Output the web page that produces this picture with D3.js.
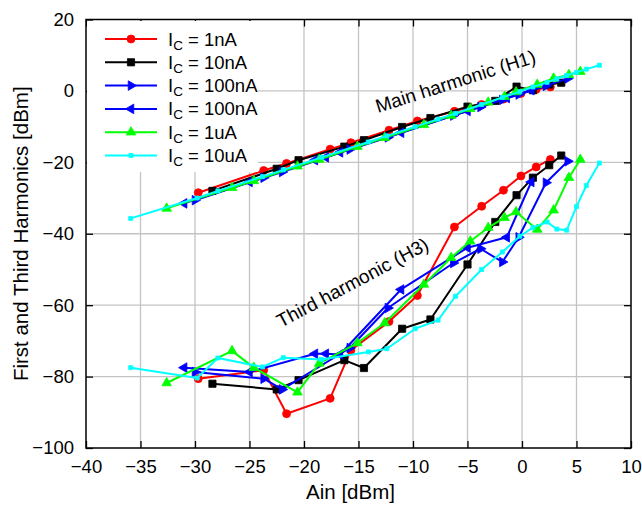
<!DOCTYPE html>
<html><head><meta charset="utf-8">
<script src="https://cdn.jsdelivr.net/npm/d3@7"></script>
<style>
html,body{margin:0;padding:0;background:#fff;}
svg{display:block;font-family:"Liberation Sans",Arial,Helvetica,sans-serif;}
</style></head>
<body><svg id="c" width="642" height="505"></svg>
<script>
// ---------- data ----------
const xTicks = [-40,-35,-30,-25,-20,-15,-10,-5,0,5,10];
const yTicks = [-100,-80,-60,-40,-20,0,20];
const seriesNames = ["1nA","10nA","100nA","100nA","1uA","10uA"];
const seriesColors = ["#ff0000","#000000","#0000ff","#0000ff","#00ff00","#00ffff"];
const seriesMarkers = ["circle","square","triRight","triLeft","triUp","smallSquare"];

const ain1nA = [-29.7,-23.7,-21.6,-17.6,-15.7,-12.2,-9.6,-6.2,-3.7,-1.7,-0.1,1.3,2.6];
const h1_1nA = [-28.5,-22.3,-20.3,-16.3,-14.5,-11.0,-8.4,-5.7,-3.8,-2.3,-0.7,0.4,1.1];
const h3_1nA = [-80.6,-78.2,-90.4,-86.1,-72.6,-64.6,-57.3,-38.1,-32.3,-27.8,-23.8,-21.3,-19.2];

const ain10nA = [-28.4,-22.5,-20.5,-16.3,-14.5,-11.0,-8.4,-5.0,-2.45,-0.5,1.0,2.5,3.6];
const h1_10nA = [-28.0,-21.8,-19.4,-15.6,-13.8,-10.1,-7.6,-4.4,-2.8,1.2,0.2,1.8,2.3];
const h3_10nA = [-82.0,-83.6,-81.0,-75.4,-77.6,-66.6,-64.0,-48.6,-36.7,-29.2,-24.3,-20.8,-18.1];

const ain100nA_a = [-30.0,-23.7,-22.0,-15.8,-12.3,-6.3,-3.8,-1.8,-0.3,2.2,4.2];
const h1_100nA_a = [-30.6,-24.3,-22.7,-16.4,-13.0,-6.9,-4.5,-2.5,-1.0,1.4,3.5];
const h3_100nA_a = [-78.7,-80.6,-83.6,-72.0,-60.8,-48.2,-44.2,-47.9,-41.0,-25.7,-19.7];

const ain100nA_b = [-31.0,-25.0,-19.0,-18.0,-16.7,-11.1,-5.0,-1.4,0.85];
const h1_100nA_b = [-31.5,-25.5,-19.4,-18.6,-17.2,-11.7,-5.6,-2.0,0.2];
const h3_100nA_b = [-77.5,-78.7,-73.6,-73.6,-73.8,-55.6,-43.9,-41.0,-25.5];

const ain1uA = [-32.6,-26.6,-24.6,-20.6,-18.6,-15.1,-12.6,-9.0,-6.5,-4.75,-3.1,-1.6,-0.55,1.4,2.9,4.3,5.35];
const h1_1uA = [-32.9,-27.1,-25.2,-21.1,-19.2,-15.6,-13.1,-9.5,-6.9,-5.0,-3.2,-1.6,-0.3,1.8,3.5,4.5,5.4];
const h3_1uA = [-81.8,-72.8,-77.5,-84.4,-76.3,-70.6,-65.0,-54.2,-46.7,-42.1,-38.3,-35.5,-33.9,-38.8,-33.4,-24.3,-19.2];

const ain10uA = [-35.9,-29.8,-27.9,-23.8,-21.9,-18.4,-14.1,-12.4,-9.8,-7.7,-6.1,-3.7,-1.8,-0.2,1.0,2.3,3.2,4.1,5.0,5.9,7.1];
const h1_10uA = [-35.7,-30.0,-28.0,-24.0,-22.1,-18.6,-14.3,-12.6,-10.0,-7.9,-6.3,-3.8,-1.8,-0.2,1.1,2.4,3.4,4.3,5.2,6.1,7.2];
const h3_10uA = [-77.5,-80.4,-74.8,-77.3,-74.7,-75.2,-73.1,-72.2,-66.6,-64.2,-57.5,-50.0,-45.1,-40.7,-38.3,-36.7,-38.7,-39.0,-32.4,-26.5,-20.2];

const series = [
  {ain: ain1nA, h1: h1_1nA, h3: h3_1nA},
  {ain: ain10nA, h1: h1_10nA, h3: h3_10nA},
  {ain: ain100nA_a, h1: h1_100nA_a, h3: h3_100nA_a},
  {ain: ain100nA_b, h1: h1_100nA_b, h3: h3_100nA_b},
  {ain: ain1uA, h1: h1_1uA, h3: h3_1uA},
  {ain: ain10uA, h1: h1_10uA, h3: h3_10uA}
].map((s,i)=>Object.assign(s,{name:seriesNames[i],color:seriesColors[i],marker:seriesMarkers[i]}));

// ---------- layout ----------
const L=86, R=631, T=19.5, B=448;
const svg = d3.select("#c");
const x = d3.scaleLinear().domain([-40,10]).range([L,R]);
const y = d3.scaleLinear().domain([-100,20]).range([B,T]);
const FS = 18.5;

// grid
const grid = svg.append("g");
grid.selectAll("line.gx").data(xTicks.slice(1,-1)).join("line")
  .attr("x1",d=>x(d)).attr("x2",d=>x(d)).attr("y1",T).attr("y2",B)
  .attr("stroke","#c4c4c4").attr("stroke-width",1.3);
grid.selectAll("line.gy").data(yTicks.slice(1,-1)).join("line")
  .attr("x1",L).attr("x2",R).attr("y1",d=>y(d)).attr("y2",d=>y(d))
  .attr("stroke","#c4c4c4").attr("stroke-width",1.3);

// axes
const axB = d3.axisBottom(x).tickValues(xTicks).tickSize(-7).tickPadding(12).tickFormat(d3.format("d"));
const axT = d3.axisTop(x).tickValues(xTicks).tickSize(-7).tickFormat("");
const axL = d3.axisLeft(y).tickValues(yTicks).tickSize(-7).tickPadding(12).tickFormat(d3.format("d"));
const axR = d3.axisRight(y).tickValues(yTicks).tickSize(-7).tickFormat("");
function style(g){
  g.select(".domain").remove();
  g.selectAll("line").attr("stroke","#000").attr("stroke-width",1.3);
  g.selectAll("text").attr("font-size",FS).attr("fill","#000").attr("font-family","'Liberation Sans',Arial,sans-serif");
}
svg.append("g").attr("transform",`translate(0,${B})`).call(axB).call(style);
svg.append("g").attr("transform",`translate(0,${T})`).call(axT).call(style);
svg.append("g").attr("transform",`translate(${L},0)`).call(axL).call(style);
svg.append("g").attr("transform",`translate(${R},0)`).call(axR).call(style);

// symbols
function markerPath(m){
  const sz = {circle:50, square:52, triRight:40, triLeft:40, triUp:40, smallSquare:16}[m];
  const type = {circle:d3.symbolCircle, square:d3.symbolSquare, triRight:d3.symbolTriangle,
    triLeft:d3.symbolTriangle, triUp:d3.symbolTriangle, smallSquare:d3.symbolSquare}[m];
  return d3.symbol().type(type).size(sz)();
}
function markerRot(m){ return m==="triRight"?90:(m==="triLeft"?-90:0); }

const plot = svg.append("g");
const line = d3.line().x(d=>x(d[0])).y(d=>y(d[1]));
["h1","h3"].forEach(k=>{
  series.forEach(s=>{
    const pts = s.ain.map((a,i)=>[a,s[k][i]]);
    plot.append("path").attr("d",line(pts)).attr("fill","none")
      .attr("stroke",s.color).attr("stroke-width",2).attr("stroke-linejoin","round");
    plot.selectAll(null).data(pts).join("path")
      .attr("d",markerPath(s.marker))
      .attr("transform",d=>`translate(${x(d[0])},${y(d[1])}) rotate(${markerRot(s.marker)})`)
      .attr("fill",s.color).attr("stroke",s.color).attr("stroke-width",0.8);
  });
});

// border
svg.append("rect").attr("x",L).attr("y",T).attr("width",R-L).attr("height",B-T)
  .attr("fill","none").attr("stroke","#000").attr("stroke-width",1.5);

// legend
const lg = svg.append("g");
lg.append("rect").attr("x",L+1).attr("y",T+1.5).attr("width",171).attr("height",151).attr("fill","#fff");
series.forEach((s,i)=>{
  const yy = 39 + i*23.3;
  lg.append("line").attr("x1",105).attr("x2",157).attr("y1",yy).attr("y2",yy)
    .attr("stroke",s.color).attr("stroke-width",2);
  lg.append("path").attr("d",markerPath(s.marker))
    .attr("transform",`translate(131,${yy}) rotate(${markerRot(s.marker)})`)
    .attr("fill",s.color).attr("stroke",s.color).attr("stroke-width",0.8);
  const t = lg.append("text").attr("x",168).attr("y",yy+6.5).attr("font-size",18.5).attr("fill","#000");
  t.append("tspan").text("I");
  t.append("tspan").attr("font-size",13.5).attr("dy",4).text("C");
  t.append("tspan").attr("dy",-4).text(" = " + s.name);
});

// annotations
svg.append("text").attr("transform","translate(378,113) rotate(-17.7)")
  .attr("font-size",19).attr("fill","#000").text("Main harmonic (H1)");
svg.append("text").attr("transform","translate(281,328) rotate(-28)")
  .attr("font-size",19).attr("fill","#000").text("Third harmonic (H3)");

// axis labels
svg.append("text").attr("x",(L+R)/2-8).attr("y",499).attr("text-anchor","middle")
  .attr("font-size",20.5).attr("fill","#000").text("Ain [dBm]");
svg.append("text").attr("transform",`translate(28,${(T+B)/2}) rotate(-90)`).attr("text-anchor","middle")
  .attr("font-size",20.5).attr("fill","#000").text("First and Third Harmonics [dBm]");
</script></body></html>
